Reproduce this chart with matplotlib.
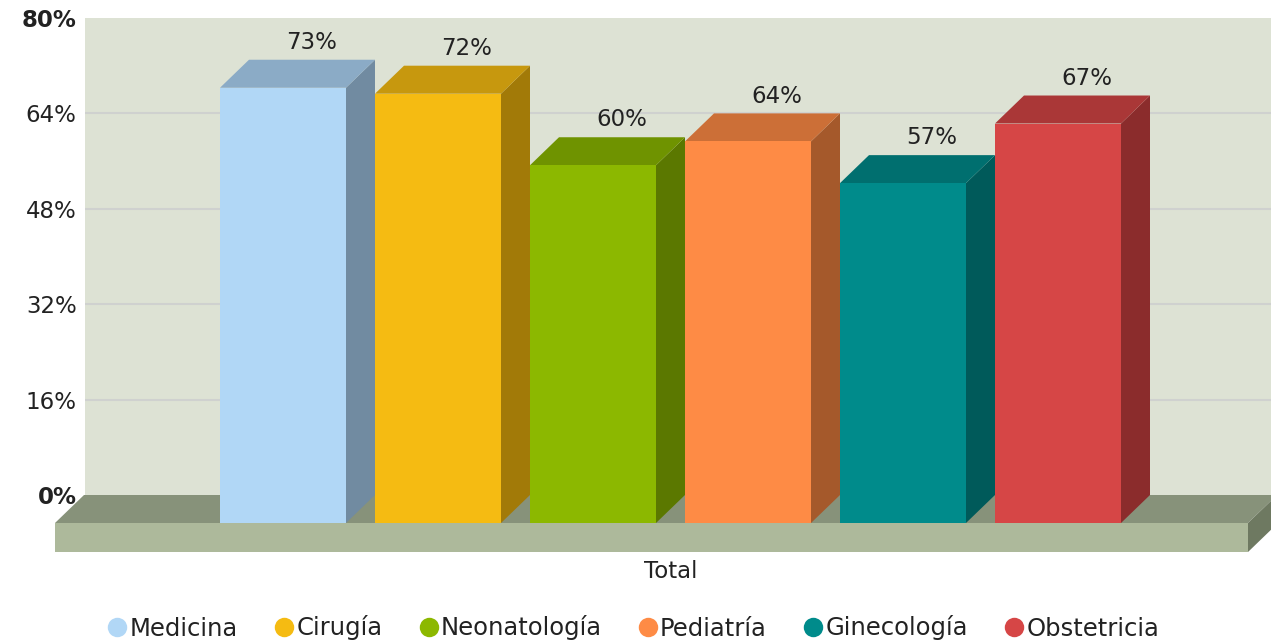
import matplotlib
matplotlib.use("Agg")
import matplotlib.pyplot as plt
from matplotlib.patches import Polygon, Rectangle
from matplotlib.lines import Line2D

# data
categories = ['Medicina', 'Cirugía', 'Neonatología', 'Pediatría', 'Ginecología', 'Obstetricia']
values = [73, 72, 60, 64, 57, 67]
front_colors = ['#b1d7f6', '#f5bb12', '#8cb800', '#fe8b45', '#008b8b', '#d64646']
side_colors = ['#718ba1', '#a27a08', '#5b7800', '#a5592b', '#005a5a', '#8b2c2c']
top_colors = ['#8babc6', '#c7980e', '#6f9300', '#cc6f37', '#006f6f', '#aa3737']
yticks = [0, 16, 32, 48, 64, 80]
group_label = 'Total'

W, H = 1271, 644
fig = plt.figure(figsize=(W / 100, H / 100), dpi=100)
# axes = back wall area in pixels
L, R, T, B = 85, 1271, 18, 552
ax = fig.add_axes([L / W, 1 - B / H, (R - L) / W, (B - T) / H])

pxx = 155.0            # pixels per category slot
x0 = 283.0             # pixel of first bar front centre
pxy = 477.0 / 80       # pixels per percent
y0 = 495.0             # pixel of 0% on the wall
ax.set_xlim((L - x0) / pxx, (R - x0) / pxx)
ax.set_ylim((y0 - B) / pxy, 80)

dx = 29 / pxx
dy = 28 / pxy
w = 126 / pxx
FONT = 16.5

ax.set_facecolor('white')
for s in ax.spines.values():
    s.set_visible(False)

# back wall
ax.add_patch(Rectangle((ax.get_xlim()[0], 0), ax.get_xlim()[1] - ax.get_xlim()[0], 80,
                       facecolor='#dde2d4', edgecolor='none', zorder=0))
ax.hlines(yticks[1:-1], ax.get_xlim()[0], ax.get_xlim()[1], color='#cfd1cf', lw=1.5, zorder=1)

# floor
fl = (55 - x0) / pxx
fr = (1248 - x0) / pxx
fb = (y0 - 552) / pxy
ax.add_patch(Polygon([(fl, -dy), (fr, -dy), (fr + dx, 0), (fl + dx, 0)],
                     facecolor='#87927a', edgecolor='none', zorder=2, clip_on=False))
ax.add_patch(Polygon([(fl, -dy), (fr, -dy), (fr, fb), (fl, fb)],
                     facecolor='#adb99b', edgecolor='none', zorder=2, clip_on=False))
ax.add_patch(Polygon([(fr, -dy), (fr + dx, 0), (fr + dx, fb + dy), (fr, fb)],
                     facecolor='#6e7961', edgecolor='none', zorder=2, clip_on=False))

# bars
for i, v in enumerate(values):
    xl, xr = i - w / 2, i + w / 2
    ax.add_patch(Polygon([(xr, -dy), (xr + dx, 0), (xr + dx, v), (xr, v - dy)],
                         facecolor=side_colors[i], edgecolor='none', zorder=3))
    ax.add_patch(Polygon([(xl, v - dy), (xr, v - dy), (xr + dx, v), (xl + dx, v)],
                         facecolor=top_colors[i], edgecolor='none', zorder=3))
    ax.add_patch(Rectangle((xl, -dy), w, v, facecolor=front_colors[i],
                           edgecolor='none', zorder=4))
    ax.text(i + dx, v + 2.9, f'{v}%', ha='center', va='center',
            fontsize=FONT, color='#222222', zorder=5)

# axes labels
ax.set_yticks(yticks)
ax.set_yticklabels([f'{t}%' for t in yticks], fontsize=FONT, color='#222222')
for t, lab in zip(yticks, ax.get_yticklabels()):
    if t in (0, 80):
        lab.set_fontweight('bold')
ax.tick_params(axis='y', length=0, pad=6)
ax.set_xticks([(len(values) - 1) / 2])
ax.set_xticklabels([group_label], fontsize=FONT, color='#222222')
ax.tick_params(axis='x', length=0, pad=6)

handles = [Line2D([], [], marker='o', ls='none', markersize=14,
                  markerfacecolor=c, markeredgecolor='none') for c in front_colors]
fig.legend(handles, categories, loc='center', bbox_to_anchor=(634 / W, 1 - 628 / H),
           ncol=6, frameon=False, fontsize=17.5, handlelength=0.7, handletextpad=0.15,
           columnspacing=1.55, labelcolor='#222222')

fig.savefig('out.png', dpi=100)
